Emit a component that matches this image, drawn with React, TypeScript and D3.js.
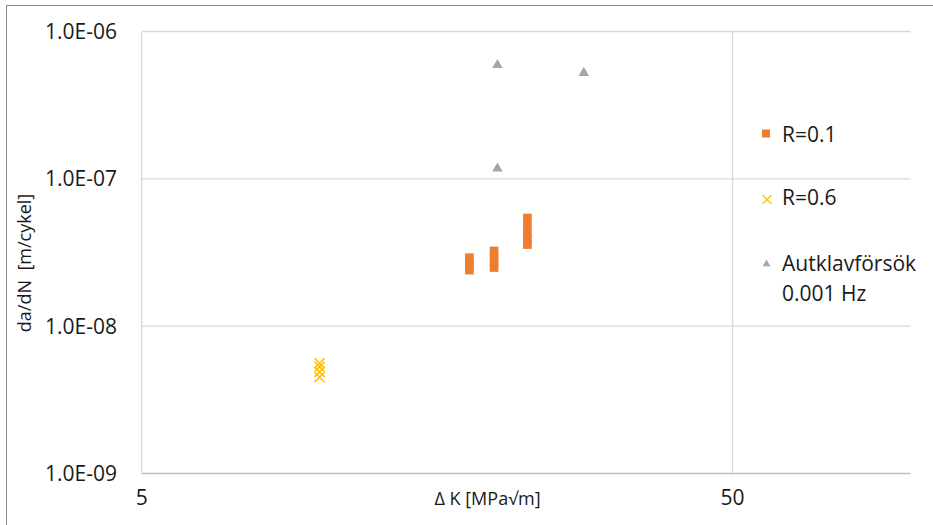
import React from "react";
import * as d3 from "d3";

// Crack growth rate vs stress intensity range
const r01Points: [number, number][] = [
  [17.93, 2.4e-8], [17.93, 2.55e-8], [17.93, 2.72e-8], [17.93, 2.92e-8],
  [19.74, 2.5e-8], [19.74, 2.7e-8], [19.74, 2.95e-8], [19.74, 3.24e-8],
  [22.48, 3.58e-8], [22.48, 3.9e-8], [22.48, 4.3e-8], [22.48, 4.8e-8], [22.48, 5.42e-8],
];
const r06Points: [number, number][] = [
  [10.0, 4.5e-9], [10.0, 4.9e-9], [10.0, 5.3e-9], [10.0, 5.6e-9],
];
const autoclavePoints: [number, number][] = [
  [20.0, 6.0e-7], [28.0, 5.3e-7], [20.0, 1.19e-7],
];

const yTicks = [1e-9, 1e-8, 1e-7, 1e-6];
const yTickLabels = ["1.0E-09", "1.0E-08", "1.0E-07", "1.0E-06"];
const xTicks = [5, 50];
const xTickLabels = ["5", "50"];

const ORANGE = "#ED7D31";
const GOLD = "#FFC000";
const GRAY = "#A5A5A5";
const FONT = "'Open Sans', sans-serif";
const LABEL_SIZE = 21;
const TITLE_SIZE = 18;

export default function App() {
  const x = d3.scaleLog().domain([5, 100]).range([141.7, 910.4]);
  const y = d3.scaleLog().domain([1e-9, 1e-6]).range([473.5, 31.5]);
  const [x0, x1] = x.range();
  const [yb, yt] = y.range();

  const tri = d3.symbol().type(d3.symbolTriangle).size(48)() as string;
  const triLegend = d3.symbol().type(d3.symbolTriangle).size(26)() as string;
  const c = 5;

  return (
    <svg width={933} height={525} style={{ position: "absolute", left: 0, top: 0, background: "#fff" }}>
      <rect x={6.5} y={5.5} width={1000} height={1000} fill="none" stroke="#8c8c8c" strokeWidth={1} />

      {/* gridlines */}
      {yTicks.slice(1).map((t) => (
        <line key={t} x1={x0} x2={x1} y1={y(t)} y2={y(t)} stroke="#D9D9D9" strokeWidth={1.3} />
      ))}
      {xTicks.map((t) => (
        <line key={t} x1={x(t)} x2={x(t)} y1={yt} y2={yb} stroke="#D9D9D9" strokeWidth={1.3} />
      ))}
      <line x1={x0} x2={x1} y1={yb} y2={yb} stroke="#BFBFBF" strokeWidth={1.5} />

      {/* y tick labels */}
      {yTicks.map((t, i) => (
        <text key={t} x={117} y={y(t)} dy="0.35em" textAnchor="end" fontFamily={FONT} fontSize={LABEL_SIZE} fill="#1a1a1a">
          {yTickLabels[i]}
        </text>
      ))}
      {/* x tick labels */}
      {xTicks.map((t, i) => (
        <text key={t} x={x(t)} y={505} textAnchor="middle" fontFamily={FONT} fontSize={LABEL_SIZE} fill="#1a1a1a">
          {xTickLabels[i]}
        </text>
      ))}

      {/* axis titles */}
      <text x={487.5} y={505} textAnchor="middle" fontFamily={FONT} fontSize={TITLE_SIZE} fill="#1a1a1a">
        Δ K [MPa√m]
      </text>
      <text transform="translate(31,263) rotate(-90)" textAnchor="middle" fontFamily={FONT} fontSize={TITLE_SIZE}
        fill="#1a1a1a" style={{ whiteSpace: "pre" }}>
        {"da/dN  [m/cykel]"}
      </text>

      {/* R=0.1 */}
      {r01Points.map(([k, r], i) => (
        <rect key={i} x={x(k) - 4.3} y={y(r) - 4.3} width={8.6} height={8.6} fill={ORANGE} />
      ))}
      {/* R=0.6 */}
      {r06Points.map(([k, r], i) => (
        <path key={i} d={`M${x(k) - c},${y(r) - c}L${x(k) + c},${y(r) + c}M${x(k) + c},${y(r) - c}L${x(k) - c},${y(r) + c}`}
          stroke={GOLD} strokeWidth={1.6} fill="none" />
      ))}
      {/* autoclave */}
      {autoclavePoints.map(([k, r], i) => (
        <path key={i} d={tri} transform={`translate(${x(k)},${y(r) + 0.8})`} fill={GRAY} />
      ))}

      {/* legend */}
      <rect x={762} y={129.5} width={8} height={8} fill={ORANGE} />
      <text x={782} y={142.3} fontFamily={FONT} fontSize={LABEL_SIZE} fill="#1a1a1a">R=0.1</text>
      <path d="M762.5,195L771.5,204M771.5,195L762.5,204" stroke={GOLD} strokeWidth={1.2} fill="none" />
      <text x={782} y={205} fontFamily={FONT} fontSize={LABEL_SIZE} fill="#1a1a1a">R=0.6</text>
      <path d={triLegend} transform="translate(766.5,264)" fill={GRAY} />
      <text x={782} y={271} fontFamily={FONT} fontSize={LABEL_SIZE} fill="#1a1a1a">Autklavförsök</text>
      <text x={782} y={301} fontFamily={FONT} fontSize={LABEL_SIZE} fill="#1a1a1a">0.001 Hz</text>
    </svg>
  );
}
